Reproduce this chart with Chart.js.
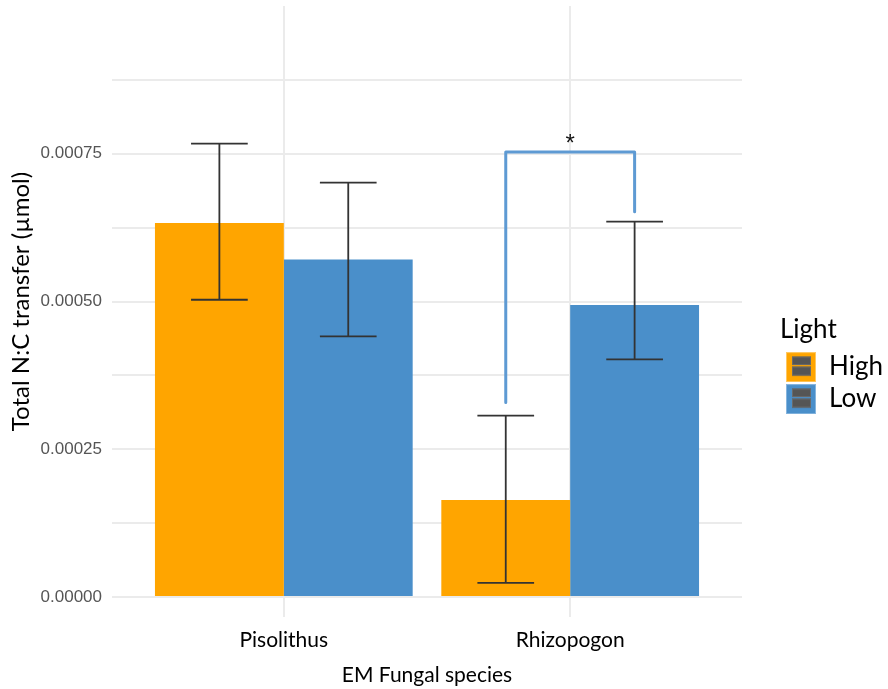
<!DOCTYPE html>
<html>
<head>
<meta charset="utf-8">
<script src="https://cdn.jsdelivr.net/npm/chart.js@4.4.1/dist/chart.umd.min.js"></script>
<style>
  html, body { margin: 0; padding: 0; background: #ffffff; }
  #chart { display: block; }
</style>
</head>
<body>
<canvas id="chart" width="888" height="689"></canvas>
<script>
// Fungal species on the x axis and the two light treatments
const species = ['Pisolithus', 'Rhizopogon'];
const lightLevels = ['High', 'Low'];

// Mean total N:C transfer (µmol) with error-bar limits
const highMean  = [0.000633, 0.000164];
const highUpper = [0.000767, 0.000307];
const highLower = [0.000503, 0.000024];
const lowMean   = [0.000571, 0.000494];
const lowUpper  = [0.000701, 0.000635];
const lowLower  = [0.000441, 0.000402];

// y-axis breaks (major ones labelled, minor ones only gridded)
const yTickValues = [0, 0.000125, 0.00025, 0.000375, 0.0005, 0.000625, 0.00075, 0.000875];
const yTickLabels = ['0.00000', '', '0.00025', '', '0.00050', '', '0.00075', ''];

// significance bracket between the Rhizopogon High and Low bars
const bracketTop = 0.000753;
const bracketFeet = [0.000329, 0.000652];
const bracketLabel = '*';

const positions = species.map((_, i) => i + 1);
const barColors = ['#FFA500', '#4A8FCA'];
const keyEdges = ['#FFC861', '#86B5DE'];

function legendKey(fill, edge) {
  const c = document.createElement('canvas');
  c.width = 30; c.height = 30;
  const g = c.getContext('2d');
  g.fillStyle = fill;
  g.fillRect(0, 0, 30, 30);
  g.strokeStyle = edge;
  g.lineWidth = 1;
  g.strokeRect(0.5, 0.5, 29, 29);
  g.fillStyle = '#555555';
  g.fillRect(6, 4.5, 19, 8.5);
  g.fillRect(6, 14.5, 19, 9);
  g.strokeStyle = '#6a6a6a';
  g.strokeRect(6.5, 5, 18, 7.5);
  g.strokeRect(6.5, 15, 18, 8);
  return c;
}
const keyImages = barColors.map((c, i) => legendKey(c, keyEdges[i]));

const errorBars = {
  id: 'errorBars',
  afterDatasetsDraw(chart) {
    const ctx = chart.ctx;
    const yScale = chart.scales.y;
    chart.data.datasets.forEach((ds, di) => {
      chart.getDatasetMeta(di).data.forEach((bar, i) => {
        const cx = bar.x;
        const half = bar.width * 0.22;
        const top = yScale.getPixelForValue(ds.upper[i]);
        const bot = yScale.getPixelForValue(ds.lower[i]);
        ctx.save();
        ctx.strokeStyle = '#333333';
        ctx.lineWidth = 1.8;
        ctx.beginPath();
        ctx.moveTo(cx, top); ctx.lineTo(cx, bot);
        ctx.moveTo(cx - half, top); ctx.lineTo(cx + half, top);
        ctx.moveTo(cx - half, bot); ctx.lineTo(cx + half, bot);
        ctx.stroke();
        ctx.restore();
      });
    });
  }
};

const significance = {
  id: 'significance',
  afterDatasetsDraw(chart) {
    const ctx = chart.ctx;
    const yScale = chart.scales.y;
    const x1 = chart.getDatasetMeta(0).data[1].x;
    const x2 = chart.getDatasetMeta(1).data[1].x;
    const yt = yScale.getPixelForValue(bracketTop);
    ctx.save();
    ctx.strokeStyle = '#5E9AD3';
    ctx.lineWidth = 3;
    ctx.lineJoin = 'round';
    ctx.lineCap = 'round';
    ctx.beginPath();
    ctx.moveTo(x1, yScale.getPixelForValue(bracketFeet[0]));
    ctx.lineTo(x1, yt);
    ctx.lineTo(x2, yt);
    ctx.lineTo(x2, yScale.getPixelForValue(bracketFeet[1]));
    ctx.stroke();
    ctx.fillStyle = '#111111';
    ctx.font = '24px "Liberation Sans"';
    ctx.textAlign = 'center';
    ctx.textBaseline = 'alphabetic';
    ctx.fillText(bracketLabel, (x1 + x2) / 2, yt - 1);
    ctx.restore();
  }
};

const tickFont = { family: 'Lato', size: 21 };

new Chart(document.getElementById('chart'), {
  type: 'bar',
  data: {
    datasets: [
      { label: lightLevels[0], data: positions.map((x, i) => ({ x, y: highMean[i] })),
        backgroundColor: barColors[0], upper: highUpper, lower: highLower },
      { label: lightLevels[1], data: positions.map((x, i) => ({ x, y: lowMean[i] })),
        backgroundColor: barColors[1], upper: lowUpper, lower: lowLower }
    ]
  },
  options: {
    responsive: false,
    devicePixelRatio: 1,
    animation: false,
    categoryPercentage: 0.9,
    barPercentage: 1,
    layout: { autoPadding: false, padding: { top: 6, left: 0, right: 0, bottom: 0 } },
    scales: {
      x: {
        type: 'linear',
        min: 0.4,
        max: 2.6,
        offset: false,
        afterBuildTicks: s => { s.ticks = positions.map(v => ({ value: v })); },
        ticks: {
          callback: v => species[Math.round(v) - 1],
          font: tickFont,
          color: '#000000',
          padding: 11,
          autoSkip: false,
          maxRotation: 0
        },
        grid: { color: '#EBEBEB', lineWidth: 2, offset: false, drawTicks: true, tickLength: 20, tickColor: '#EBEBEB', tickWidth: 2 },
        border: { display: false },
        title: { display: true, text: 'EM Fungal species', font: { family: 'Lato', size: 21 }, color: '#000000', padding: { top: 0, bottom: 1 } },
        afterFit: s => { s.height = 92; s.paddingLeft = 0; s.paddingRight = 0; }
      },
      y: {
        min: 0,
        max: 0.001,
        afterBuildTicks: s => { s.ticks = yTickValues.map(v => ({ value: v })); },
        ticks: {
          callback: (v, i) => yTickLabels[i],
          font: { family: 'Liberation Sans', size: 17 },
          color: '#555555',
          padding: 10,
          autoSkip: false
        },
        grid: { color: '#EBEBEB', lineWidth: 2, drawTicks: false },
        border: { display: false },
        title: { display: true, text: 'Total N:C transfer (µmol)', font: { family: 'Lato', size: 24 }, color: '#000000', padding: { top: 7, bottom: 0 } },
        afterFit: s => { s.width = 112; s.paddingTop = 0; s.paddingBottom = 0; }
      },
      gap: {
        type: 'linear',
        position: 'right',
        display: true,
        grid: { display: false, drawTicks: false },
        ticks: { display: false },
        border: { display: false },
        afterFit: s => { s.width = 38; s.paddingTop = 0; s.paddingBottom = 0; }
      }
    },
    plugins: {
      tooltip: { enabled: false },
      legend: {
        display: true,
        position: 'right',
        align: 'center',
        maxWidth: 108,
        title: {
          display: true,
          text: 'Light',
          position: 'start',
          color: '#000000',
          font: { family: 'Lato', size: 26 },
          padding: { top: 40, bottom: 0 }
        },
        labels: {
          usePointStyle: true,
          pointStyleWidth: 30,
          padding: 6,
          color: '#000000',
          font: { family: 'Lato', size: 26 },
          generateLabels: chart => chart.data.datasets.map((ds, i) => ({
            text: ds.label,
            pointStyle: keyImages[i],
            fillStyle: ds.backgroundColor,
            strokeStyle: ds.backgroundColor,
            lineWidth: 0,
            hidden: false,
            datasetIndex: i,
            fontColor: '#000000'
          }))
        }
      }
    }
  },
  plugins: [errorBars, significance]
});
</script>
</body>
</html>
